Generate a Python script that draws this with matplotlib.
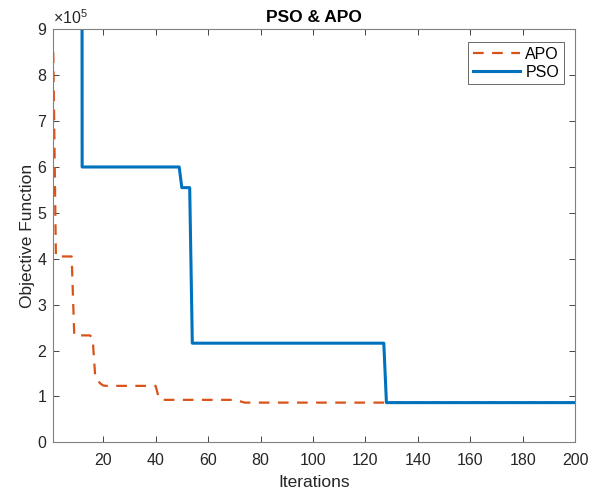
import numpy as np
import matplotlib
matplotlib.use("Agg")
import matplotlib.pyplot as plt
from matplotlib.ticker import FuncFormatter

plt.rcParams['font.family'] = ['Liberation Sans', 'DejaVu Sans']
plt.rcParams['mathtext.fontset'] = 'custom'
plt.rcParams['mathtext.rm'] = 'Liberation Sans'

# Step data (run-length encoded: value, number of iterations)
pso_values = [1.0e7, 6.0e5, 5.55e5, 2.16e5, 0.865e5]
pso_counts = [11, 38, 4, 74, 73]

apo_values = [8.5e5, 4.05e5, 2.33e5, 2.27e5, 1.42e5, 1.34e5, 1.28e5, 1.24e5,
              1.23e5, 1.02e5, 0.925e5, 0.90e5, 0.88e5, 0.865e5]
apo_counts = [1, 7, 7, 1, 1, 1, 1, 1, 20, 1, 30, 1, 1, 127]

pso = np.repeat(pso_values, pso_counts)
apo = np.repeat(apo_values, apo_counts)
iters = np.arange(1, len(pso) + 1)

xticks = [20, 40, 60, 80, 100, 120, 140, 160, 180, 200]
yticks = [0, 1e5, 2e5, 3e5, 4e5, 5e5, 6e5, 7e5, 8e5, 9e5]

blue = '#0072BD'
orange = '#D95319'
axcol = '#262626'

fig = plt.figure(figsize=(5.94, 4.92), dpi=100)
ax = fig.add_axes([0.0897, 0.101, 0.9685 - 0.0897, 0.9404 - 0.101])

ax.plot(iters, apo, color=orange, lw=1.6, linestyle=(0, (4.8, 3.8)), label='APO')
ax.plot(iters, pso, color=blue, lw=2.2, label='PSO')

ax.set_xlim(1, 200)
ax.set_ylim(0, 9e5)
ax.set_xticks(xticks)
ax.set_yticks(yticks)
ax.yaxis.set_major_formatter(FuncFormatter(lambda v, p: f'{v/1e5:g}'))

ax.tick_params(direction='in', top=True, right=True, length=4, width=0.6,
               colors=axcol, labelsize=11.5, labelcolor=axcol)
ax.tick_params(axis='x', pad=8)
ax.tick_params(axis='y', pad=5)
for s in ax.spines.values():
    s.set_color('#808080')
    s.set_linewidth(0.8)

ax.set_xlabel('Iterations', fontsize=12.5, color=axcol, labelpad=5)
ax.set_ylabel('Objective Function', fontsize=12.5, color=axcol, labelpad=2)
ax.set_title('PSO & APO', fontsize=12.5, fontweight='bold', color='black', pad=5)

ax.text(0.0, 1.005, r'$\times 10^{5}$', transform=ax.transAxes, fontsize=11.5,
        color=axcol, ha='left', va='bottom')

leg = ax.legend(loc='upper right', bbox_to_anchor=(0.978, 0.97), fontsize=11.5,
                frameon=True, fancybox=False, handlelength=3.0, handletextpad=0.3,
                borderpad=0.3, labelspacing=0.2, borderaxespad=0)
leg.get_frame().set_edgecolor('#262626')
leg.get_frame().set_linewidth(0.6)

fig.savefig('out.png', dpi=100)
